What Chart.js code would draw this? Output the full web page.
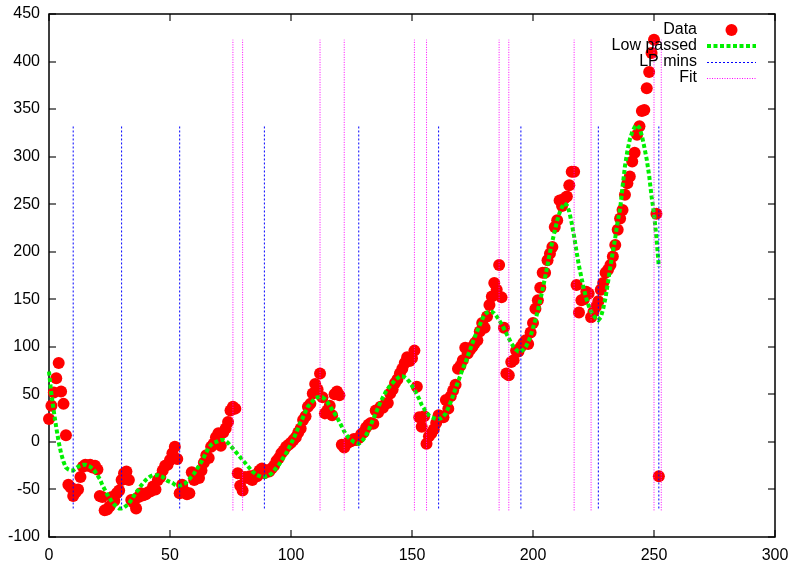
<!DOCTYPE html>
<html>
<head>
<meta charset="utf-8">
<title>Low passed mins</title>
<script src="https://cdn.jsdelivr.net/npm/chart.js@4.4.1/dist/chart.umd.min.js"></script>
<style>
  html, body { margin: 0; padding: 0; background: #fff; }
  #wrap { width: 793px; height: 561px; }
</style>
</head>
<body>
<div id="wrap"><canvas id="grafico" width="793" height="561"></canvas></div>
<script>
// ─── Dados ───────────────────────────────────────────────────────────────────

const dataValues = [
  24, 38, 52, 67, 83, 53, 40, 7, -45, -48,
  -57, -53, -50, -37, -26, -24, -25, -24, -27, -25,
  -29, -57, -58, -72, -71, -68, -58, -62, -54, -51,
  -40, -33, -31, -40, -61, -64, -70, -58, -54, -56,
  -55, -53, -52, -47, -50, -40, -37, -30, -25, -24,
  -19, -12, -5, -18, -54, -45, -52, -55, -54, -32,
  -40, -36, -38, -30, -22, -14, -17, -5, -2, 5,
  9, -4, 10, 14, 21, 33, 37, 35, -33, -46,
  -51, -37, -38, -36, -40, -35, -36, -30, -28, -33,
  -30, -31, -28, -25, -20, -17, -12, -9, -5, -3,
  -1, 2, 5, 10, 14, 23, 27, 37, 40, 51,
  61, 55, 72, 47, 30, 33, 38, 28, 50, 53,
  49, -3, -6, -2, 0, 1, 3, 2, 4, 8,
  10, 15, 18, 20, 19, 33, 31, 37, 36, 40,
  41, 51, 55, 62, 66, 72, 77, 83, 89, 85,
  88, 96, 58, 26, 16, 27, -2, 6, 9, 13,
  20, 28, 27, 26, 44, 35, 48, 54, 60, 77,
  80, 86, 99, 93, 97, 100, 104, 107, 116, 125,
  120, 132, 144, 153, 167, 160, 186, 152, 120, 72,
  70, 84, 86, 96, 95, 100, 104, 107, 103, 115,
  125, 140, 149, 162, 178, 178, 191, 198, 205, 226,
  233, 254, 248, 256, 258, 270, 284, 284, 165, 136,
  149, 150, 158, 156, 131, 137, 142, 148, 160, 167,
  178, 181, 186, 195, 207, 223, 235, 244, 260, 272,
  279, 295, 304, 323, 332, 348, 349, 372, 389, 409,
  423, 240, -36
];

const lowPassed = [
  74, 50, 32, 15, 0, -12, -21, -27, -29, -30,
  -30, -28, -26, -25, -24, -24, -25, -26, -28, -31,
  -35, -39, -45, -50, -55, -59, -63, -66, -68, -70,
  -70, -69, -67, -65, -61, -57, -53, -50, -46, -43,
  -40, -38, -36, -35, -35, -35, -36, -37, -39, -41,
  -42, -43, -45, -46, -46, -45, -44, -42, -39, -36,
  -33, -29, -25, -21, -16, -11, -6, -3, -1, 0,
  1, 2, 2, 1, -1, -4, -7, -10, -13, -16,
  -19, -22, -25, -28, -31, -33, -35, -36, -37, -37,
  -36, -35, -33, -30, -27, -24, -20, -16, -12, -7,
  -2, 3, 9, 15, 21, 26, 32, 37, 40, 43,
  46, 47, 47, 47, 45, 42, 38, 34, 30, 26,
  21, 16, 11, 7, 4, 2, 0, -1, -2, 0,
  3, 7, 12, 18, 24, 30, 36, 42, 47, 52,
  56, 59, 62, 65, 67, 69, 69, 68, 66, 63,
  59, 55, 50, 45, 39, 35, 31, 28, 26, 25,
  24, 24, 25, 27, 30, 36, 42, 49, 56, 63,
  70, 77, 83, 90, 97, 104, 111, 117, 123, 129,
  134, 136, 137, 137, 135, 132, 128, 124, 119, 114,
  109, 104, 100, 97, 95, 95, 97, 100, 105, 111,
  120, 128, 138, 149, 161, 173, 186, 199, 211, 222,
  233, 241, 247, 251, 249, 242, 230, 216, 200, 185,
  173, 161, 151, 143, 137, 133, 130, 128, 131, 140,
  152, 168, 185, 200, 215, 232, 245, 268, 290, 306,
  318, 326, 331, 333, 330, 322, 310, 297, 280, 258,
  240, 215, 184
];

const lpMins = [10, 30, 54, 89, 128, 161, 195, 227, 252];
const lpMinsRange = [-70, 333];
const fitMarks = [76, 80, 112, 122, 151, 156, 186, 190, 217, 224, 250, 253];
const fitRange = [-72, 423];

const xTicks = [0, 50, 100, 150, 200, 250, 300];
const yTicks = [-100, -50, 0, 50, 100, 150, 200, 250, 300, 350, 400, 450];
const legendLabels = ['Data', 'Low passed', 'LP mins', 'Fit'];

// ─── Montagem ────────────────────────────────────────────────────────────────

const sampleIndex = dataValues.map((_, i) => i);
const pontos = (vals) => vals.map((v, i) => ({ x: sampleIndex[i], y: v }));

function verticais(xs, faixa) {
  const pts = [];
  xs.forEach(x => {
    pts.push({ x, y: faixa[0] }, { x, y: faixa[1] }, { x, y: null });
  });
  return pts;
}

const FONT = '"Liberation Sans", Arial, sans-serif';

// moldura estilo gnuplot: borda + ticks para dentro nos 4 lados
const moldura = {
  id: 'moldura',
  beforeDatasetsDraw(chart) {
    const { ctx, chartArea: a, scales: { x, y } } = chart;
    const tl = 7;
    ctx.save();
    ctx.strokeStyle = '#444';
    ctx.lineWidth = 1.5;
    ctx.beginPath();
    x.ticks.forEach(t => {
      const px = Math.round(x.getPixelForValue(t.value));
      ctx.moveTo(px, a.bottom); ctx.lineTo(px, a.bottom - tl);
      ctx.moveTo(px, a.top); ctx.lineTo(px, a.top + tl);
    });
    y.ticks.forEach(t => {
      const py = Math.round(y.getPixelForValue(t.value));
      ctx.moveTo(a.left, py); ctx.lineTo(a.left + tl, py);
      ctx.moveTo(a.right, py); ctx.lineTo(a.right - tl, py);
    });
    ctx.stroke();
    ctx.strokeStyle = '#000';
    ctx.strokeRect(Math.round(a.left), Math.round(a.top),
      Math.round(a.right - a.left), Math.round(a.bottom - a.top));
    ctx.restore();
  },
};

// legenda à direita, texto alinhado à direita e amostra depois
const legenda = {
  id: 'legenda',
  afterDatasetsDraw(chart) {
    const { ctx } = chart;
    const textX = 697, x0 = 707, x1 = 756, y0 = 30, dy = 16;
    ctx.save();
    ctx.font = '16px ' + FONT;
    ctx.textAlign = 'right';
    ctx.textBaseline = 'middle';
    legendLabels.forEach((lab, i) => {
      const ds = chart.data.datasets.find(d => d.label === lab);
      const yy = y0 + i * dy;
      ctx.fillStyle = '#000';
      ctx.fillText(lab, textX, yy);
      if (ds.showLine === false) {
        ctx.fillStyle = ds.backgroundColor;
        ctx.beginPath();
        ctx.arc(731.5, yy, 6, 0, Math.PI * 2);
        ctx.fill();
      } else {
        ctx.strokeStyle = ds.borderColor;
        ctx.lineWidth = ds.borderWidth;
        ctx.setLineDash(ds.borderDash);
        ctx.beginPath();
        const yl = ds.borderWidth % 2 ? yy + 0.5 : yy;
        ctx.moveTo(x0, yl); ctx.lineTo(x1, yl);
        ctx.stroke();
      }
    });
    ctx.restore();
  },
};

Chart.defaults.font.family = FONT;
Chart.defaults.font.size = 16;
Chart.defaults.color = '#000';

new Chart(document.getElementById('grafico').getContext('2d'), {
  type: 'scatter',
  plugins: [moldura, legenda],
  data: {
    datasets: [
      {
        label: 'Data',
        data: pontos(dataValues),
        showLine: false,
        backgroundColor: '#ff0000',
        borderColor: '#ff0000',
        borderWidth: 0,
        pointRadius: 6,
        clip: false,
        order: 4,
      },
      {
        label: 'Low passed',
        data: pontos(lowPassed),
        showLine: true,
        borderColor: '#00f000',
        backgroundColor: '#00f000',
        borderWidth: 4,
        borderDash: [4, 2.5],
        borderCapStyle: 'butt',
        pointRadius: 0,
        tension: 0,
        clip: false,
        order: 3,
      },
      {
        label: 'LP mins',
        data: verticais(lpMins, lpMinsRange),
        showLine: true,
        spanGaps: false,
        borderColor: '#0000ff',
        backgroundColor: '#0000ff',
        borderWidth: 1,
        borderDash: [2, 2],
        pointRadius: 0,
        order: 2,
      },
      {
        label: 'Fit',
        data: verticais(fitMarks, fitRange),
        showLine: true,
        spanGaps: false,
        borderColor: '#ff00ff',
        backgroundColor: '#ff00ff',
        borderWidth: 1,
        borderDash: [1, 1.5],
        pointRadius: 0,
        order: 1,
      },
    ],
  },
  options: {
    responsive: false,
    animation: false,
    devicePixelRatio: 1,
    layout: { padding: { top: 14, right: 18, left: 0, bottom: 0 } },
    plugins: {
      legend: { display: false },
      tooltip: { enabled: false },
    },
    scales: {
      x: {
        type: 'linear',
        min: 0,
        max: 300,
        grid: { display: false, drawTicks: false },
        border: { display: false },
        ticks: { padding: 9, maxRotation: 0, autoSkip: false },
        afterBuildTicks: (s) => { s.ticks = xTicks.map(v => ({ value: v })); },
        afterFit: (s) => { s.height = 24; s.paddingLeft = 0; s.paddingRight = 0; },
      },
      y: {
        type: 'linear',
        min: -100,
        max: 450,
        grid: { display: false, drawTicks: false },
        border: { display: false },
        ticks: { padding: 9, autoSkip: false },
        afterBuildTicks: (s) => { s.ticks = yTicks.map(v => ({ value: v })); },
        afterFit: (s) => { s.width = 49; s.paddingTop = 0; s.paddingBottom = 0; },
      },
    },
  },
});
</script>
</body>
</html>
